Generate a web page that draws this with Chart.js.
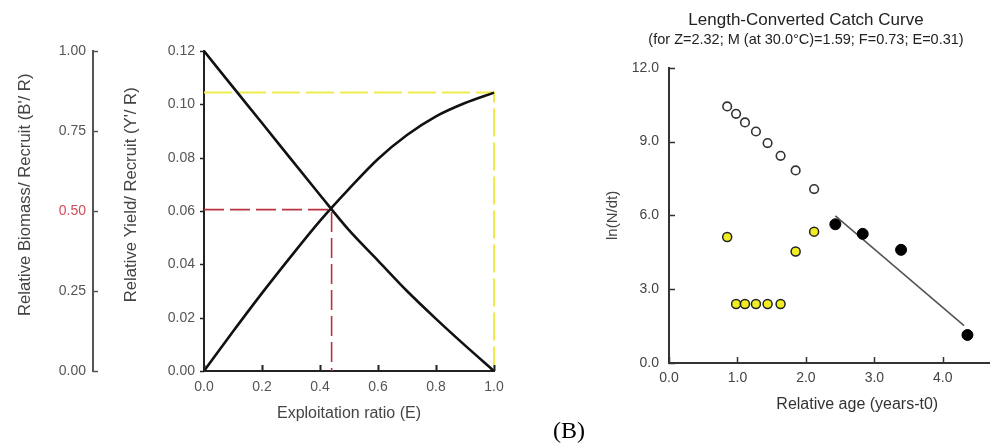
<!DOCTYPE html>
<html><head><meta charset="utf-8">
<script src="https://cdn.jsdelivr.net/npm/chart.js@4/dist/chart.umd.min.js"></script>
<style>
html,body{margin:0;padding:0;background:#fff;width:990px;height:444px;overflow:hidden;position:relative}
#c1{position:absolute;left:0;top:0}
#c2{position:absolute;left:560px;top:0}
#lab{position:absolute;left:553px;top:416px;font:24px "Liberation Serif","DejaVu Serif",serif;color:#000;line-height:28px}
</style></head><body>
<canvas id="c1" width="520" height="444"></canvas>
<canvas id="c2" width="492" height="444"></canvas>
<div id="lab">(B)</div>
<script>
// ---------- Panel A data (relative yield / biomass per recruit) ----------
const exploitation      = [0, 0.1, 0.2, 0.3, 0.4, 0.5, 0.6, 0.7, 0.8, 0.9, 1.0];
const yieldPerRecruit   = [0, 0.0148, 0.0292, 0.0430, 0.0563, 0.0683, 0.0795, 0.0885, 0.0955, 0.1005, 0.1044];
const biomassPerRecruit = [1.0, 0.887, 0.775, 0.662, 0.55, 0.44, 0.345, 0.25, 0.163, 0.08, 0.0];
const redGuideE    = [0, 0.44, 0.44];
const redGuideY    = [0.0605, 0.0605, 0];
const yellowGuideE = [0, 1.0, 1.0];
const yellowGuideY = [0.1044, 0.1044, 0];
const eTicks       = [0, 0.2, 0.4, 0.6, 0.8, 1.0];
const yieldTicks   = [0, 0.02, 0.04, 0.06, 0.08, 0.10, 0.12];
const biomassTicks = [0, 0.25, 0.5, 0.75, 1.0];

// ---------- Panel B data (length-converted catch curve) ----------
const ageSmall     = [0.85, 0.98, 1.11, 1.27, 1.44, 1.63, 1.85, 2.12];
const lnExpected   = [10.43, 10.13, 9.78, 9.41, 8.94, 8.42, 7.83, 7.07];
const lnUnused     = [5.12, 2.40, 2.40, 2.40, 2.40, 2.40, 4.53, 5.34];
const ageUsed      = [2.43, 2.83, 3.39, 4.36];
const lnUsed       = [5.64, 5.25, 4.60, 1.14];
const regAge       = [2.43, 4.31];
const regLn        = [5.98, 1.52];
const ageTicks     = [0, 1, 2, 3, 4, 5];
const lnTicks      = [0, 3, 6, 9, 12];

const FONT = '"Liberation Sans", Arial, sans-serif';
Chart.defaults.font.family = FONT;
Chart.defaults.animation = false;

const pts = (xs, ys) => xs.map((x, i) => ({x, y: ys[i]}));
const setTicks = arr => s => { s.ticks = arr.map(v => ({value: v})); };
const LEAD = '\u00a0'.repeat(7);

const tickMarks = {
  id: 'tickMarks',
  afterDraw(chart, args, opts) {
    const ctx = chart.ctx;
    (opts.specs || []).forEach(sp => {
      const s = chart.scales[sp.axis];
      ctx.save();
      ctx.strokeStyle = sp.color; ctx.lineWidth = sp.width;
      ctx.beginPath();
      s.ticks.forEach(t => {
        const p = Math.round(s.getPixelForValue(t.value)) + 0.5;
        if (s.isHorizontal()) { ctx.moveTo(p, s.top); ctx.lineTo(p, s.top + sp.dir * sp.len); }
        else { ctx.moveTo(s.right, p); ctx.lineTo(s.right + sp.dir * sp.len, p); }
      });
      ctx.stroke(); ctx.restore();
    });
  }
};

const noGrid = {display: true, drawOnChartArea: false, drawTicks: false};

// ---------- Panel A ----------
new Chart(document.getElementById('c1'), {
  type: 'scatter',
  data: { datasets: [
    {data: pts(exploitation, yieldPerRecruit), yAxisID: 'y', showLine: true, borderColor: '#111', borderWidth: 2.6, pointRadius: 0, cubicInterpolationMode: 'monotone', clip: false},
    {data: pts(exploitation, biomassPerRecruit), yAxisID: 'yB', showLine: true, borderColor: '#111', borderWidth: 2.6, pointRadius: 0, cubicInterpolationMode: 'monotone', clip: false},
    {data: pts(redGuideE, redGuideY), yAxisID: 'y', showLine: true, borderColor: '#b8323f', borderWidth: 1.6, borderDash: [20, 6], pointRadius: 0, clip: false},
    {data: pts(yellowGuideE, yellowGuideY), yAxisID: 'y', showLine: true, borderColor: '#eeec4a', borderWidth: 2, borderDash: [28, 6], pointRadius: 0, clip: false}
  ]},
  options: {
    responsive: false, devicePixelRatio: 1,
    layout: {padding: {left: 0, top: 51, right: 26, bottom: 0}},
    plugins: {legend: {display: false}, tooltip: {enabled: false},
      tickMarks: {specs: [
        {axis: 'x', dir: -1, len: 6, color: '#222', width: 2},
        {axis: 'y', dir: -1, len: 4, color: '#222', width: 1.5},
        {axis: 'yB', dir: 1, len: 5, color: '#555', width: 1.5}
      ]}},
    scales: {
      x: {type: 'linear', position: 'bottom', min: 0, max: 1, afterBuildTicks: setTicks(eTicks),
        ticks: {callback: v => v.toFixed(1), font: {size: 14}, color: '#555', padding: 8},
        grid: noGrid, border: {display: true, color: '#222', width: 2},
        title: {display: true, text: 'Exploitation ratio (E)', font: {size: 16}, color: '#444', padding: {top: 0, bottom: 21}},
        afterFit: s => { s.height = 73; }},
      y: {type: 'linear', position: 'left', weight: 1, min: 0, max: 0.12, afterBuildTicks: setTicks(yieldTicks),
        ticks: {callback: v => v.toFixed(2), font: {size: 14}, color: '#555', padding: 9},
        grid: noGrid, border: {display: true, color: '#222', width: 2},
        title: {display: true, text: LEAD + "Relative Yield/ Recruit (Y'/ R)", font: {size: 16.7}, color: '#444', padding: {top: 28, bottom: 0}},
        afterFit: s => { s.width = 111; }},
      yB: {type: 'linear', position: 'left', weight: 2, min: 0, max: 1, afterBuildTicks: setTicks(biomassTicks),
        ticks: {callback: v => v.toFixed(2), font: {size: 14}, color: c => c.tick && c.tick.value === 0.5 ? '#d24a5a' : '#555', padding: 7},
        grid: noGrid, border: {display: true, color: '#555', width: 2},
        title: {display: true, text: LEAD + "Relative Biomass/ Recruit (B'/ R)", font: {size: 16.7}, color: '#444', padding: {top: 15, bottom: 0}},
        afterFit: s => { s.width = 93; }}
    }
  },
  plugins: [tickMarks]
});

// ---------- Panel B ----------
new Chart(document.getElementById('c2'), {
  type: 'scatter',
  data: { datasets: [
    {data: pts(ageUsed, lnUsed), pointRadius: 5.5, pointBackgroundColor: '#000', pointBorderColor: '#000', pointBorderWidth: 1},
    {data: pts(ageSmall, lnUnused), pointRadius: 4.5, pointBackgroundColor: '#eeee22', pointBorderColor: '#222', pointBorderWidth: 1.5},
    {data: pts(ageSmall, lnExpected), pointRadius: 4.3, pointBackgroundColor: '#fff', pointBorderColor: '#333', pointBorderWidth: 1.6},
    {data: pts(regAge, regLn), showLine: true, borderColor: '#555', borderWidth: 1.6, pointRadius: 0}
  ]},
  options: {
    responsive: false, devicePixelRatio: 1,
    layout: {padding: 0},
    plugins: {legend: {display: false}, tooltip: {enabled: false},
      title: {display: true, text: 'Length-Converted Catch Curve', font: {size: 17, weight: 'normal'}, color: '#222', padding: {top: 10, bottom: 0}},
      subtitle: {display: true, text: '(for Z=2.32; M (at 30.0°C)=1.59; F=0.73; E=0.31)', font: {size: 14.5}, color: '#222', padding: {top: 1, bottom: 19}},
      tickMarks: {specs: [
        {axis: 'x', dir: -1, len: 6, color: '#333', width: 1.5},
        {axis: 'y', dir: 1, len: 6, color: '#333', width: 1.5}
      ]}},
    scales: {
      x: {type: 'linear', position: 'bottom', min: 0, max: 5.5, afterBuildTicks: setTicks(ageTicks),
        ticks: {callback: v => v.toFixed(1), font: {size: 14}, color: '#444', padding: 7},
        grid: noGrid, border: {display: true, color: '#333', width: 2},
        title: {display: true, text: 'Relative age (years-t0)', font: {size: 16}, color: '#333', padding: {top: 0, bottom: 30}},
        afterFit: s => { s.height = 81; }},
      y: {type: 'linear', position: 'left', min: 0, max: 12, afterBuildTicks: setTicks(lnTicks),
        ticks: {callback: v => v.toFixed(1), font: {size: 14}, color: '#444', padding: 10},
        grid: noGrid, border: {display: true, color: '#333', width: 2},
        title: {display: true, text: 'ln(N/dt)', font: {size: 15}, color: '#444', padding: {top: 44, bottom: 0}},
        afterFit: s => { s.width = 109; }}
    }
  },
  plugins: [tickMarks]
});
</script>
</body></html>
